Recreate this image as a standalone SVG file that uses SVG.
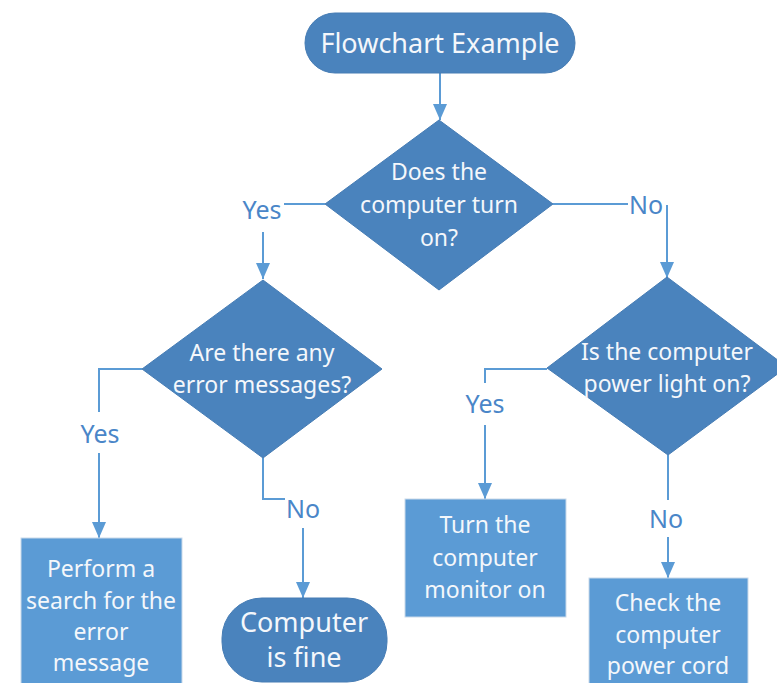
<svg xmlns="http://www.w3.org/2000/svg" width="777" height="683" viewBox="0 0 777 683">
<style>
.dark{fill:#4a83bd;stroke:#467cb4;stroke-width:1}
.box{fill:#5b9bd5;stroke:#c9d9ea;stroke-width:1}
.t{font-family:"Noto Sans","Open Sans","DejaVu Sans",sans-serif;fill:#f4f7fb;text-anchor:middle}
.s{font-size:23px}
.lbl{font-family:"Noto Sans","Open Sans","DejaVu Sans",sans-serif;fill:#4a86c8;font-size:25px;text-anchor:middle}
.c{fill:none;stroke:#5b9bd5;stroke-width:2}
</style>
<defs>
<marker id="a" viewBox="0 0 16 14" refX="16" refY="7" markerWidth="16" markerHeight="14" markerUnits="userSpaceOnUse" orient="auto">
<path d="M0,0 L16,7 L0,14 z" fill="#5b9bd5"/>
</marker>
</defs>
<rect width="777" height="683" fill="#ffffff"/>
<g id="connectors">
<path class="c" d="M440,73 V120" marker-end="url(#a)"/>
<path class="c" d="M325,204 H284"/>
<path class="c" d="M263,232 V279" marker-end="url(#a)"/>
<path class="c" d="M553,204 H628"/>
<path class="c" d="M667,205 V278" marker-end="url(#a)"/>
<path class="c" d="M142,369 H99 V412"/>
<path class="c" d="M99,453 V538" marker-end="url(#a)"/>
<path class="c" d="M263,458 V499 H285"/>
<path class="c" d="M303,528 V598" marker-end="url(#a)"/>
<path class="c" d="M547,369 H485 V383"/>
<path class="c" d="M485,425 V499" marker-end="url(#a)"/>
<path class="c" d="M668,455 V500"/>
<path class="c" d="M668,537 V578" marker-end="url(#a)"/>
<text class="lbl" x="262" y="219">Yes</text>
<text class="lbl" x="646" y="214">No</text>
<text class="lbl" x="100" y="443">Yes</text>
<text class="lbl" x="303" y="518">No</text>
<text class="lbl" x="485" y="413">Yes</text>
<text class="lbl" x="666" y="528">No</text>
</g>
<g id="start">
<rect class="dark" x="305" y="13" width="270" height="60" rx="30"/>
<text class="t" x="440" y="53" font-size="27">Flowchart Example</text>
</g>
<g id="d1">
<polygon class="dark" points="439,120 553,204 439,290 325,204"/>
<text class="t s" x="439" y="180">Does the</text>
<text class="t s" x="439" y="213">computer turn</text>
<text class="t s" x="439" y="246">on?</text>
</g>
<g id="d2">
<polygon class="dark" points="263,280 382,369 263,458 142,369"/>
<text class="t s" x="262" y="361">Are there any</text>
<text class="t s" x="262" y="393">error messages?</text>
</g>
<g id="d3">
<polygon class="dark" points="667,277 787,367 668,455 547,368"/>
<text class="t s" x="667" y="360">Is the computer</text>
<text class="t s" x="667" y="392">power light on?</text>
</g>
<g id="search">
<rect class="box" x="21" y="538" width="161" height="160"/>
<text class="t s" x="101" y="577">Perform a</text>
<text class="t s" x="101" y="609">search for the</text>
<text class="t s" x="101" y="640">error</text>
<text class="t s" x="101" y="671">message</text>
</g>
<g id="fine">
<rect class="dark" x="222" y="598" width="165" height="84" rx="40"/>
<text class="t" x="304" y="632" font-size="27">Computer</text>
<text class="t" x="304" y="667" font-size="27">is fine</text>
</g>
<g id="monitor">
<rect class="box" x="405" y="499" width="161" height="118"/>
<text class="t s" x="485" y="533">Turn the</text>
<text class="t s" x="485" y="566">computer</text>
<text class="t s" x="485" y="598">monitor on</text>
</g>
<g id="cord">
<rect class="box" x="589" y="578" width="159" height="120"/>
<text class="t s" x="668" y="611">Check the</text>
<text class="t s" x="668" y="643">computer</text>
<text class="t s" x="668" y="674">power cord</text>
</g>
</svg>
